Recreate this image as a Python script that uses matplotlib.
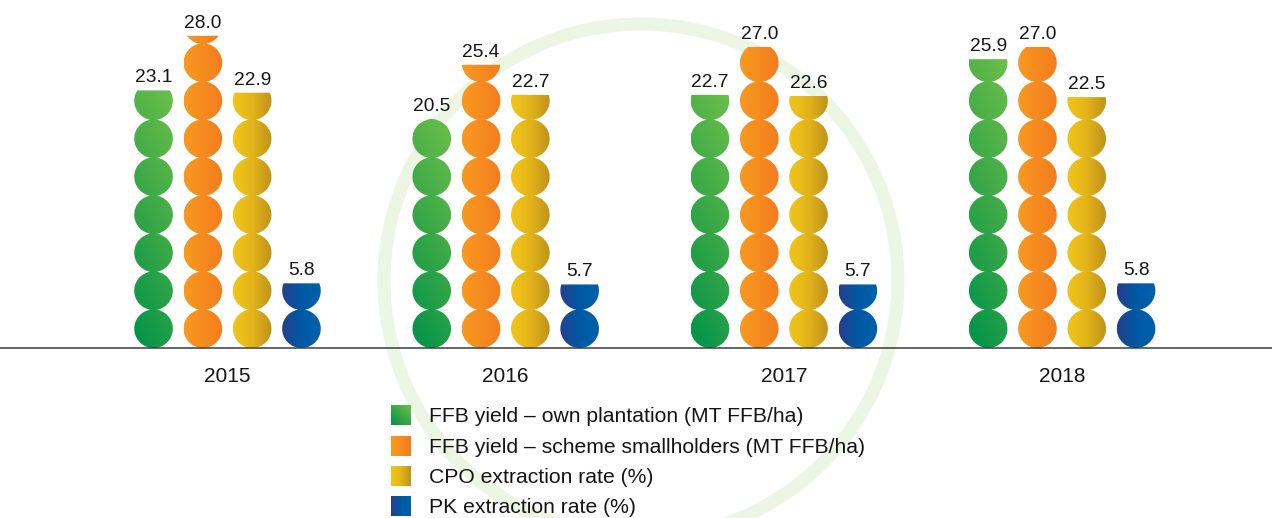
import numpy as np
import matplotlib
matplotlib.use('Agg')
import matplotlib.pyplot as plt
from matplotlib.path import Path
from matplotlib.patches import PathPatch, Circle
from matplotlib.colors import LinearSegmentedColormap

# ---- data ----
years = ['2015', '2016', '2017', '2018']
ffb_own = [23.1, 20.5, 22.7, 25.9]
ffb_scheme = [28.0, 25.4, 27.0, 27.0]
cpo_rate = [22.9, 22.7, 22.6, 22.5]
pk_rate = [5.8, 5.7, 5.7, 5.8]
series_labels = ['FFB yield \u2013 own plantation (MT FFB/ha)',
                 'FFB yield \u2013 scheme smallholders (MT FFB/ha)',
                 'CPO extraction rate (%)',
                 'PK extraction rate (%)']
series_values = [ffb_own, ffb_scheme, cpo_rate, pk_rate]

# ---- styles ----
cmaps = [
    LinearSegmentedColormap.from_list('g', ['#00924a', '#3aa847', '#6cbf4a']),
    LinearSegmentedColormap.from_list('o', ['#f89a1f', '#f47c20']),
    LinearSegmentedColormap.from_list('y', ['#f2c619', '#e3b41a', '#bf921b']),
    LinearSegmentedColormap.from_list('b', ['#263f8d', '#0059a4', '#0061aa']),
]
FONT = 'Liberation Sans'

W, H = 1272, 518
S = 11.15          # pixels per data unit
BASE = 348         # baseline pixel row


def X(px):
    return px / S


def Y(py):
    return (BASE - py) / S


fig = plt.figure(figsize=(W / 100, H / 100), dpi=100)
ax = fig.add_axes([0, 0, 1, 1])
ax.set_xlim(0, W / S)
ax.set_ylim(Y(H), Y(0))
ax.axis('off')

# decorative ring
ax.add_patch(Circle((X(641), Y(281)), 257 / S, fill=False, ec='#edf6e5',
                    lw=13 * 0.72, zorder=0))

r = 19.3 / S
pitch = 38.0 / S
theta = np.linspace(0, 2 * np.pi, 97)


def bar_path(xc, value):
    verts, codes = [], []
    k = 0
    while k * pitch < value:
        cy = r + k * pitch
        xs = xc + r * np.cos(theta)
        ys = np.minimum(cy + r * np.sin(theta), value)
        verts += list(zip(xs, ys))
        codes += [Path.MOVETO] + [Path.LINETO] * (len(theta) - 2) + [Path.CLOSEPOLY]
        k += 1
    return Path(verts, codes)


def gradient(kind, n=200):
    fx, fy = np.meshgrid(np.linspace(0, 1, n), np.linspace(0, 1, n))
    if kind == 0:
        return 0.75 * fy + 0.25 * fx
    return fx


def gradient_sq(kind, n=100):
    fx, fy = np.meshgrid(np.linspace(0, 1, n), np.linspace(0, 1, n))
    if kind == 0:
        return 0.5 * (fx + fy)
    return fx


group_spacing = 278.2
first_center = 227.5
bar_spacing = 49.3
offsets = (np.arange(4) - 1.5) * bar_spacing

for g, year in enumerate(years):
    gc = first_center + g * group_spacing
    for s, vals in enumerate(series_values):
        v = vals[g]
        xc = X(gc + offsets[s])
        path = bar_path(xc, v)
        patch = PathPatch(path, transform=ax.transData, fc='none', ec='none')
        im = ax.imshow(gradient(s), extent=[xc - r, xc + r, 0, v], origin='lower',
                       cmap=cmaps[s], vmin=0, vmax=1, interpolation='bilinear',
                       aspect='auto', zorder=2)
        im.set_clip_path(patch)
        ax.text(xc, v + 8 / S, f'{v:.1f}', ha='center', va='baseline',
                fontsize=13.8, family=FONT, color='#141414', zorder=3)
    ax.text(X(gc), Y(376), year, ha='center', va='center', fontsize=15,
            family=FONT, color='#141414')

# baseline
ax.plot([0, W / S], [0, 0], color='#3a3a3a', lw=1.1, zorder=3,
        solid_capstyle='butt')

# legend
leg_y = [415, 446, 476, 506]
for s, lab in enumerate(series_labels):
    cy = leg_y[s]
    ax.imshow(gradient_sq(s), extent=[X(391), X(411), Y(cy + 10), Y(cy - 10)],
              origin='lower', cmap=cmaps[s], vmin=0, vmax=1, aspect='auto',
              interpolation='bilinear', zorder=2)
    ax.text(X(429), Y(cy + 7), lab, ha='left', va='baseline', fontsize=15.2,
            family=FONT, color='#141414')

ax.set_xlim(0, W / S)
ax.set_ylim(Y(H), Y(0))
fig.savefig('out.png', dpi=100)
